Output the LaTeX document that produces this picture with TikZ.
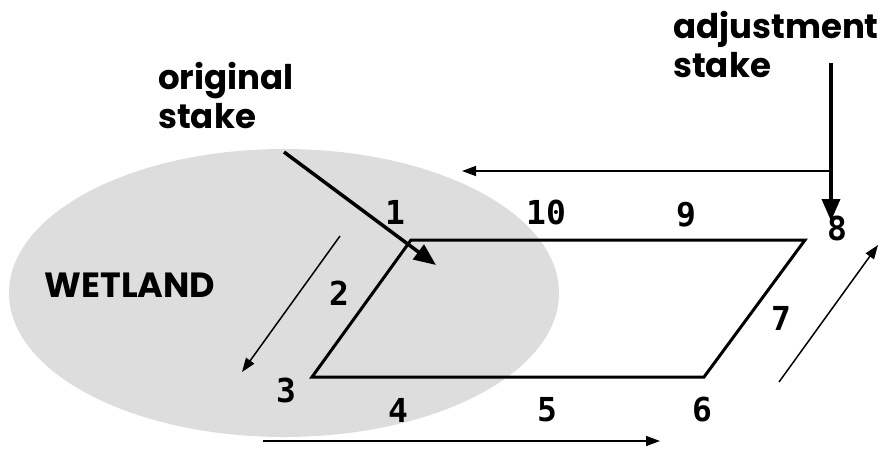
\documentclass[tikz,border=0pt]{standalone}
\usepackage{fontspec}
\usetikzlibrary{arrows.meta,positioning,shapes.geometric}
\newfontfamily\labfont{Poppins}
\newfontfamily\numfont{DejaVu Sans Mono}
\definecolor{wetgray}{RGB}{221,221,221}
\begin{document}
\begin{tikzpicture}[x=1pt,y=-1pt,
  num/.style={font=\numfont\bfseries\fontsize{33}{33}\selectfont,inner sep=0},
  word/.style={font=\labfont\bfseries\fontsize{34}{39}\selectfont,align=left,inner sep=0,anchor=base west},
  edge/.style={line width=3pt,line join=miter},
  stake/.style={line width=3.5pt,-{Triangle[length=22pt,width=18pt]}},
  walk/.style={line width=1.5pt,-{Triangle[length=14pt,width=10pt]}}]
\useasboundingbox (0,0) rectangle (886,448);
% wetland area
\node[ellipse,fill=wetgray,minimum width=550pt,minimum height=288pt](w) at (284,293){};
\node[font=\labfont\bfseries\fontsize{35}{35}\selectfont,inner sep=0](wl) at (130,285){WETLAND};
% staked plot
\coordinate (c1) at (411,240);\coordinate (c8) at (805,240);
\coordinate (c6) at (704,377);\coordinate (c3) at (312,377);
\draw[edge](c1)--(c8)--(c6)--(c3)--cycle;
% stakes (base = last line)
\node[word](os) at (158,128){original\\stake};
\node[word](as) at (673,77){adjustment\\stake};
\coordinate (osa) at (284,152);\coordinate (ost) at (436,265);
\coordinate (asa) at (831,63);\coordinate (ast) at (831,221);
\draw[stake](osa)--(ost);
\draw[stake](asa)--(ast);
% direction of travel
\coordinate (m1) at (831,171);\coordinate (m2) at (462,171);
\coordinate (l1) at (340,236);\coordinate (l2) at (242,372);
\coordinate (b1) at (263,441);\coordinate (b2) at (660,441);
\coordinate (r1) at (779,382);\coordinate (r2) at (878,245);
\draw[walk](m1)--(m2);\draw[walk](l1)--(l2);
\draw[walk](b1)--(b2);\draw[walk](r1)--(r2);
% station numbers
\node[num](n1) at (395,212){1};
\node[num](n2) at (339,293){2};
\node[num](n3) at (286,390){3};
\node[num](n4) at (398,410){4};
\node[num](n5) at (547,410){5};
\node[num](n6) at (702,410){6};
\node[num](n7) at (781,318){7};
\node[num](n8) at (837,228){8};
\node[num](n9) at (686,215){9};
\node[num](n10) at (546,212){10};
\end{tikzpicture}
\end{document}
